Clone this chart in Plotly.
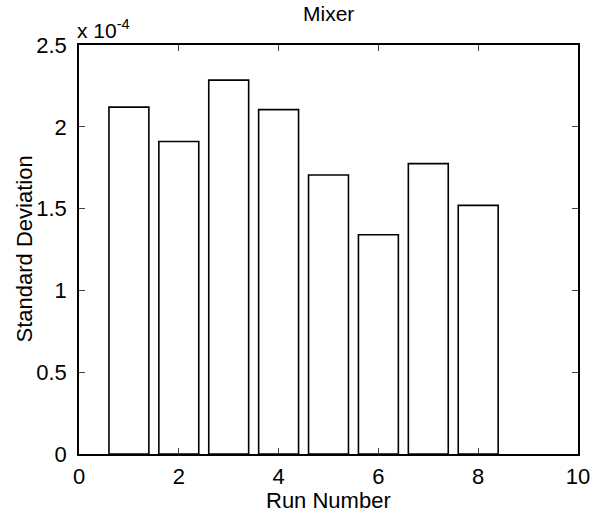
import plotly.graph_objects as go

runs = [1, 2, 3, 4, 5, 6, 7, 8]
std_dev = [2.12e-4, 1.91e-4, 2.285e-4, 2.105e-4, 1.705e-4, 1.34e-4, 1.775e-4, 1.52e-4]
ytick_vals = [0, 0.5e-4, 1e-4, 1.5e-4, 2e-4, 2.5e-4]
ytick_text = ["0", "0.5", "1", "1.5", "2", "2.5"]
xtick_vals = [0, 2, 4, 6, 8, 10]

FONT = "Liberation Sans, Arial, Helvetica, sans-serif"
FS = 22

fig = go.Figure(go.Bar(
    x=runs, y=std_dev, width=0.8,
    marker=dict(color="white", line=dict(color="black", width=1.6)),
))

fig.update_layout(
    width=594, height=514,
    margin=dict(l=79, r=16, t=45, b=60, autoexpand=False),
    paper_bgcolor="white", plot_bgcolor="white",
    font=dict(family=FONT, size=FS, color="black"),
    showlegend=False,
    xaxis=dict(range=[0, 10], tickvals=xtick_vals, ticks="inside", ticklen=6,
               showline=True, linecolor="black", linewidth=1.5, mirror="allticks",
               showgrid=False, zeroline=False, automargin=False,
               ticklabelstandoff=2, tickfont=dict(size=FS)),
    yaxis=dict(range=[0, 2.5e-4], tickvals=ytick_vals, ticktext=ytick_text,
               ticks="inside", ticklen=6,
               showline=True, linecolor="black", linewidth=1.5, mirror="allticks",
               showgrid=False, zeroline=False, automargin=False,
               ticklabelstandoff=6, tickfont=dict(size=FS)),
    annotations=[
        dict(text="Mixer", xref="paper", yref="paper", x=0.5, y=1.0,
             xanchor="center", yanchor="bottom", yshift=18, showarrow=False,
             font=dict(family=FONT, size=21, color="black")),
        dict(text="x 10<sup>-4</sup>", xref="paper", yref="paper",
             x=0.0, y=1.0, xanchor="left", yanchor="bottom", xshift=-4, yshift=1,
             showarrow=False, font=dict(family=FONT, size=21, color="black")),
        dict(text="Run Number", xref="paper", yref="paper", x=0.5, y=0.0,
             xanchor="center", yanchor="middle", yshift=-46, showarrow=False,
             font=dict(family=FONT, size=FS, color="black")),
        dict(text="Standard Deviation", xref="paper", yref="paper", x=0.0, y=0.5,
             xanchor="center", yanchor="middle", xshift=-55, textangle=-90,
             showarrow=False, font=dict(family=FONT, size=FS, color="black")),
    ],
)

fig.write_html("out.html", config={"displayModeBar": False},
               post_script="document.body.style.margin='0';document.body.style.padding='0';")
